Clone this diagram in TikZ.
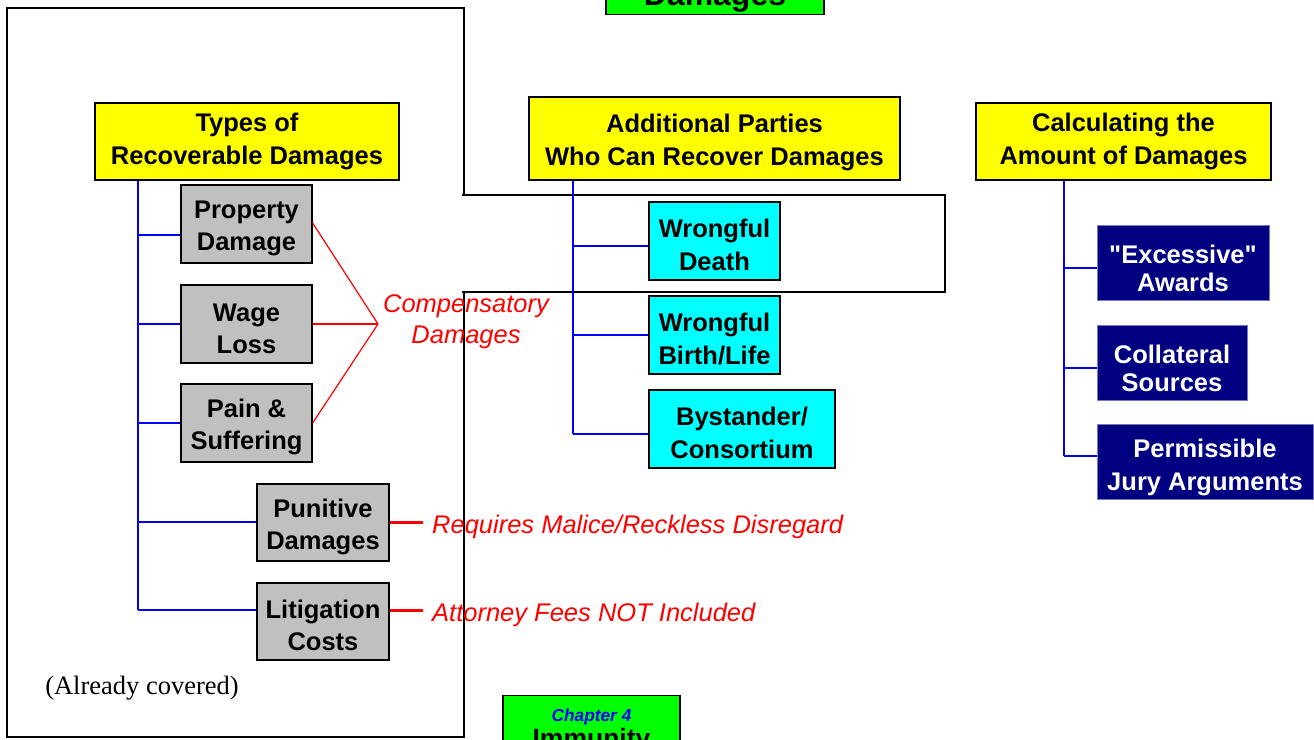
\documentclass[tikz,border=0pt]{standalone}
\usepackage{fontspec}
\setmainfont{Liberation Serif}
\newfontfamily\arialfont{Liberation Sans}
\newcommand{\boxstrut}{\rule{0pt}{27pt}}
\newcommand{\navystrut}{\rule{0pt}{30pt}}
\definecolor{ylw}{RGB}{255,255,0}
\definecolor{gry}{RGB}{192,192,192}
\definecolor{cyn}{RGB}{0,255,255}
\definecolor{nvy}{RGB}{0,0,128}
\definecolor{nvyedge}{RGB}{120,120,190}
\definecolor{grn}{RGB}{0,255,0}
\begin{document}
\begin{tikzpicture}[x=1pt,y=-1pt,
  box/.style={draw=black, line width=1.3pt, inner sep=0pt, align=center,
    font=\arialfont\bfseries\fontsize{25.5}{33}\selectfont},
  ybox/.style={box, fill=ylw},
  gbox/.style={box, fill=gry, font=\arialfont\bfseries\fontsize{25.5}{32}\selectfont},
  cbox/.style={box, fill=cyn},
  nbox/.style={box, fill=nvy, draw=nvyedge, line width=0.8pt, text=white,
    font=\arialfont\bfseries\fontsize{25.5}{28}\selectfont},
  chbox/.style={draw=black, line width=1.3pt, align=center, fill=grn, inner xsep=0pt,
    font=\arialfont\bfseries\fontsize{32}{30}\selectfont},
  tree/.style={draw=blue, line width=1.2pt},
  comp/.style={draw=red, line width=1.2pt},
  note/.style={draw=red, line width=3pt},
  rtext/.style={text=red, inner sep=0pt, font=\arialfont\itshape\fontsize{25.5}{31}\selectfont},
]
\useasboundingbox (0,0) rectangle (1314,739);
\clip (0,0) rectangle (1314,739);

% frames
\draw[line width=1.3pt] (7,8) rectangle (464,737);
\fill[white] (462,196) rectangle (945,292);
\draw[line width=1.3pt] (462,195) -- (945,195) -- (945,292) -- (462,292);

% chapter boxes (cropped)
\node[chbox, anchor=south, minimum width=218, inner ysep=2pt] (dam) at (715,15) {Damages};
\node[chbox, anchor=north, minimum width=177, inner ysep=13pt,
  font=\arialfont\bfseries\fontsize{26.5}{26}\selectfont] (imm) at (591.5,695)
  {{\color{blue}\itshape\fontsize{17.3}{20}\selectfont Chapter 4}\\Immunity};

% headers
\node[ybox, minimum width=304, minimum height=77] (types) at (247,141.5) {Types of\\Recoverable Damages};
\node[ybox, minimum width=371, minimum height=83] (addl) at (714.5,138.5) {\boxstrut Additional Parties\\Who Can Recover Damages};
\node[ybox, minimum width=295, minimum height=77] (calc) at (1123.5,141.5) {Calculating the\\Amount of Damages};

% left column
\node[gbox, minimum width=131, minimum height=78] (prop) at (246.5,224) {\boxstrut Property\\Damage};
\node[gbox, minimum width=131, minimum height=78] (wage) at (246.5,324) {\boxstrut Wage\\Loss};
\node[gbox, minimum width=131, minimum height=78] (pain) at (246.5,423) {\boxstrut Pain \&\\Suffering};
\node[gbox, minimum width=132, minimum height=77] (puni) at (323,522.5) {\boxstrut Punitive\\Damages};
\node[gbox, minimum width=132, minimum height=77] (liti) at (323,621.5) {\boxstrut Litigation\\Costs};

% middle column
\node[cbox, minimum width=131, minimum height=78] (wd) at (714.5,241) {\boxstrut Wrongful\\Death};
\node[cbox, minimum width=131, minimum height=78] (wb) at (714.5,335) {\boxstrut Wrongful\\Birth/Life};
\node[cbox, minimum width=186, minimum height=78] (by) at (742,429) {\boxstrut Bystander/\\Consortium};

% right column
\node[nbox, minimum width=172, minimum height=75] (exc) at (1183,262.5) {\navystrut"Excessive"\\Awards};
\node[nbox, minimum width=150, minimum height=75] (col) at (1172,362.5) {\navystrut Collateral\\Sources};
\node[nbox, minimum width=216, minimum height=75, font=\arialfont\bfseries\fontsize{25.5}{33}\selectfont] (perm) at (1205,461.5) {\navystrut Permissible\\Jury Arguments};

% left tree
\coordinate (ls0) at (types.south -| 138,0);
\coordinate (ls1) at (138,235);
\coordinate (ls2) at (138,324);
\coordinate (ls3) at (138,423);
\coordinate (ls4) at (138,522);
\coordinate (ls5) at (138,610);
\draw[tree] (ls0) -- (ls5);
\draw[tree] (ls1) -- (prop.west |- ls1);
\draw[tree] (ls2) -- (wage.west |- ls2);
\draw[tree] (ls3) -- (pain.west |- ls3);
\draw[tree] (ls4) -- (puni.west |- ls4);
\draw[tree] (ls5) -- (liti.west |- ls5);

% middle tree
\coordinate (ms0) at (addl.south -| 573,0);
\coordinate (ms1) at (573,246);
\coordinate (ms2) at (573,335);
\coordinate (ms3) at (573,434);
\draw[tree] (ms0) -- (ms3);
\draw[tree] (ms1) -- (wd.west |- ms1);
\draw[tree] (ms2) -- (wb.west |- ms2);
\draw[tree] (ms3) -- (by.west |- ms3);

% right tree
\coordinate (rs0) at (calc.south -| 1064,0);
\coordinate (rs1) at (1064,268);
\coordinate (rs2) at (1064,368);
\coordinate (rs3) at (1064,456);
\draw[tree] (rs0) -- (rs3);
\draw[tree] (rs1) -- (exc.west |- rs1);
\draw[tree] (rs2) -- (col.west |- rs2);
\draw[tree] (rs3) -- (perm.west |- rs3);

% compensatory bracket
\coordinate (cj) at (378,324);
\draw[comp] (prop.east |- 0,223) -- (cj);
\draw[comp] (wage.east) -- (cj);
\draw[comp] (pain.east) -- (cj);
\node[rtext, align=center] (comptxt) at (466,322) {Compensatory\\Damages};

% notes
\coordinate (pe) at (423,522);
\coordinate (le) at (423,610);
\draw[note] (puni.east |- pe) -- (pe);
\draw[note] (liti.east |- le) -- (le);
\node[rtext, anchor=base west] (req) at (432,533) {Requires Malice/Reckless Disregard};
\node[rtext, anchor=base west] (att) at (432,621) {Attorney Fees NOT Included};

\node[inner sep=0pt, font=\fontsize{26.5}{30}\selectfont] (cov) at (142,688) {(Already covered)};
\end{tikzpicture}
\end{document}
